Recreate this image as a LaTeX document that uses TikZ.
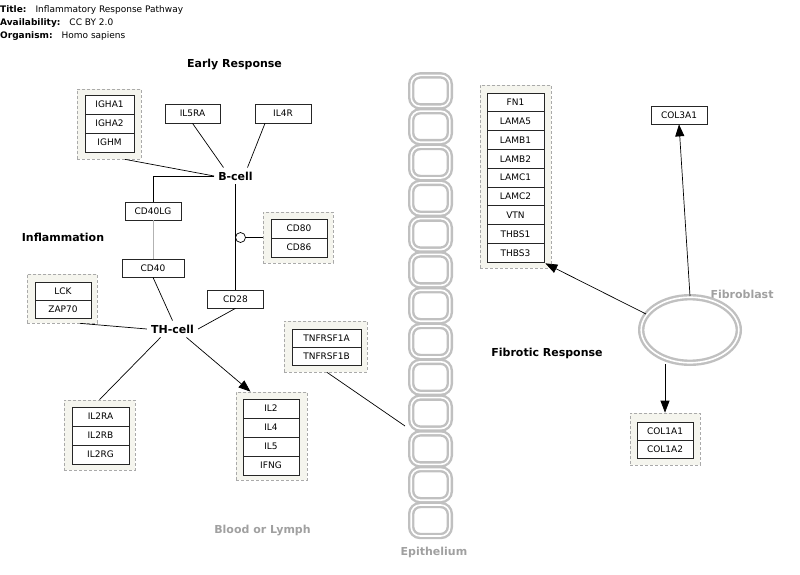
\documentclass[tikz,border=0pt]{standalone}
\usepackage{fontspec}
\setmainfont{DejaVu Sans}
\usepackage{xcolor}
\usetikzlibrary{shapes.geometric, arrows.meta, positioning}

\definecolor{grpfill}{RGB}{245,245,238}
\definecolor{grpline}{RGB}{170,170,170}
\definecolor{cmpgray}{RGB}{160,160,160}
\definecolor{membgray}{RGB}{192,192,192}

\begin{document}
\begin{tikzpicture}[x=1pt, y=-1pt,
    gene/.style={draw=black!85, fill=white, line width=0.7pt, inner sep=0pt, minimum height=19pt, font=\fontsize{9}{10}\selectfont},
    grp/.style={draw=grpline, dash pattern=on 3pt off 2pt, fill=grpfill, line width=0.7pt, inner sep=0pt},
    lbl/.style={font=\bfseries\fontsize{11}{13}\selectfont, inner sep=4pt},
    cmp/.style={lbl, text=cmpgray},
    hdr/.style={anchor=west, inner sep=0pt, font=\fontsize{9}{11}\selectfont},
    memb/.style={draw=membgray, double=white, line width=2.4pt, double distance=1.6pt},
    conn/.style={line width=0.7pt},
    arr/.style={conn, -{Triangle[length=12pt, width=9pt]}}]

\useasboundingbox (0,0) rectangle (800,575);

% header
\node[hdr] (title) at (0,10) {\textbf{Title:}\hspace{1em}Inflammatory Response Pathway};
\node[hdr] (avail) at (0,23) {\textbf{Availability:}\hspace{1em}CC BY 2.0};
\node[hdr] (organism) at (0,36) {\textbf{Organism:}\hspace{1em}Homo sapiens};

% section labels
\node[lbl] (early) at (234.5,65) {Early Response};
\node[lbl] (inflam) at (63,237) {Inflammation};
\node[lbl] (fibresp) at (547,353) {Fibrotic Response};
\node[cmp] (blood) at (262.5,531) {Blood or Lymph};
\node[cmp] (epith) at (434,552) {Epithelium};
\node[cmp] (fiblbl) at (742,294) {Fibroblast};

% cells
\node[lbl] (bcell) at (235.5,176) {B-cell};
\node[lbl] (thcell) at (172.5,329) {TH-cell};

% epithelium chain
\foreach \i in {1,...,13}
  \node[memb, rounded corners=9pt, minimum width=38.6pt, minimum height=31pt, inner sep=0pt] (ep\i) at (430.5, {73+35.8*(\i-0.5)}) {};

% fibroblast
\node[memb, ellipse, minimum width=97.6pt, minimum height=65.6pt, inner sep=0pt] (fib) at (690,330) {};

% single genes
\node[gene, minimum width=55pt] (il5ra) at (192.5,113.5) {IL5RA};
\node[gene, minimum width=56pt] (il4r) at (283,113.5) {IL4R};
\node[gene, minimum width=56pt, minimum height=18pt] (cd40lg) at (153,211) {CD40LG};
\node[gene, minimum width=62pt, minimum height=18pt] (cd40) at (153,268) {CD40};
\node[gene, minimum width=56pt, minimum height=18pt] (cd28) at (235.5,299) {CD28};
\node[gene, minimum width=56pt, minimum height=18pt] (col3a1) at (679,115) {COL3A1};

% groups
\node[grp, minimum width=64pt, minimum height=70pt] (ighgrp) at (109,124) {};
\foreach \g [count=\i] in {IGHA1, IGHA2, IGHM}
  \node[gene, minimum width=49pt] (igh\i) at (109.5, {95+19*(\i-0.5)}) {\g};

\node[grp, minimum width=70pt, minimum height=51pt] (cdgrp) at (298,237.5) {};
\foreach \g [count=\i] in {CD80, CD86}
  \node[gene, minimum width=56pt] (cd8\i) at (299, {219+19*(\i-0.5)}) {\g};

\node[grp, minimum width=70pt, minimum height=49pt] (lckgrp) at (62,298.5) {};
\foreach \g [count=\i] in {LCK, ZAP70}
  \node[gene, minimum width=56pt, minimum height=18pt] (lck\i) at (63, {282+18*(\i-0.5)}) {\g};

\node[grp, minimum width=71pt, minimum height=70pt] (il2rgrp) at (99.5,435) {};
\foreach \g [count=\i] in {IL2RA, IL2RB, IL2RG}
  \node[gene, minimum width=57pt] (il2r\i) at (100.5, {407+19*(\i-0.5)}) {\g};

\node[grp, minimum width=71pt, minimum height=88pt] (il2grp) at (271.5,436) {};
\foreach \g [count=\i] in {IL2, IL4, IL5, IFNG}
  \node[gene, minimum width=56pt] (ilc\i) at (271, {399+19*(\i-0.5)}) {\g};

\node[grp, minimum width=83pt, minimum height=51pt] (tnfgrp) at (325.5,346.5) {};
\foreach \g [count=\i] in {TNFRSF1A, TNFRSF1B}
  \node[gene, minimum width=69pt, minimum height=18pt] (tnf\i) at (326.5, {329+18*(\i-0.5)}) {\g};

\node[grp, minimum width=71pt, minimum height=183pt] (fngrp) at (515.5,176.5) {};
\foreach \g [count=\i] in {FN1, LAMA5, LAMB1, LAMB2, LAMC1, LAMC2, VTN, THBS1, THBS3}
  \node[gene, minimum width=57pt, minimum height=18.8pt] (ecm\i) at (515.5, {93+18.8*(\i-0.5)}) {\g};

\node[grp, minimum width=70pt, minimum height=52pt] (colgrp) at (665,439) {};
\foreach \g [count=\i] in {COL1A1, COL1A2}
  \node[gene, minimum width=56pt, minimum height=18pt] (col\i) at (665, {422+18*(\i-0.5)}) {\g};

% binding mark
\node[circle, draw, fill=white, line width=0.7pt, minimum size=10pt, inner sep=0pt] (bind) at (240.5,237.5) {};
\coordinate (tnfend) at (405,426);

% connectors
\draw[conn] ([xshift=16pt]ighgrp.south) -- (bcell.west);
\draw[conn] (il5ra.south) -- ([xshift=-12pt]bcell.north);
\draw[conn] ([xshift=-18pt]il4r.south) -- ([xshift=12pt]bcell.north);
\draw[conn] (bcell.west) -| (cd40lg.north);
\draw[conn, gray!60] (cd40lg.south) -- (cd40.north);
\draw[conn] (cd40.south) -- (thcell.north);
\draw[conn] (bcell.south) -- (cd28.north);
\draw[conn] (cdgrp.west) -- (bind.east);
\draw[conn] (cd28.south) -- (thcell.east);
\draw[conn] ([xshift=18pt]lckgrp.south) -- (thcell.west);
\draw[conn] ([xshift=-12pt]thcell.south) -- (il2rgrp.north);
\draw[arr] ([xshift=14pt]thcell.south) -- ([xshift=-21pt]il2grp.north);
\draw[conn] ([xshift=1.5pt]tnfgrp.south) -- (tnfend);
\draw[arr] (fib.160) -- ([shift={(-6pt,5pt)}]fngrp.south east);
\draw[arr] (fib.north) -- (col3a1.south);
\draw[arr] (fib.south -| colgrp.north) -- (colgrp.north);
\end{tikzpicture}
\end{document}
